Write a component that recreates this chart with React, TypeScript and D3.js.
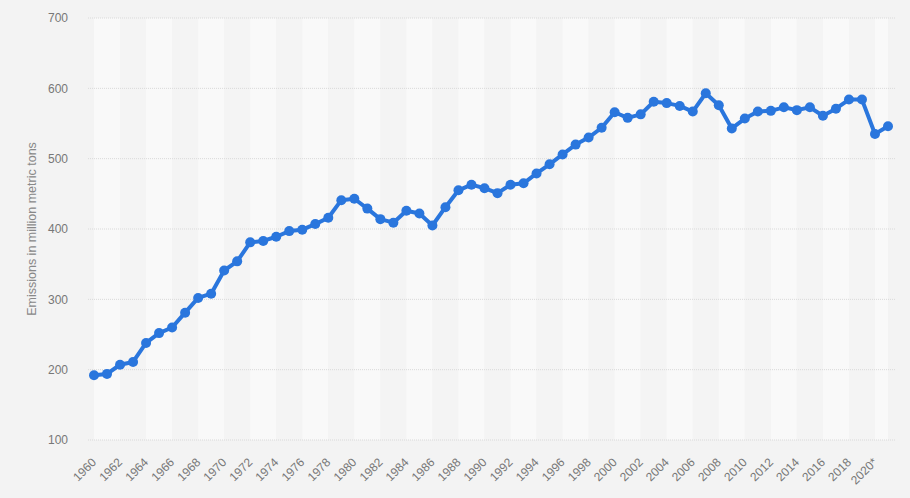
import React from "react";
import * as d3 from "d3";

const years: number[] = d3.range(1960, 2022);
const emissions: number[] = [
  192, 194, 207, 211, 238, 252, 260, 281, 302, 308,
  341, 354, 381, 383, 389, 397, 399, 407, 416, 441,
  443, 429, 414, 409, 426, 422, 405, 431, 455, 463,
  458, 451, 463, 465, 479, 492, 506, 520, 530, 544,
  566, 558, 563, 581, 579, 575, 567, 593, 576, 543,
  557, 567, 568, 573, 569, 573, 561, 571, 584, 584,
  535, 546,
];
const yTicks: number[] = [100, 200, 300, 400, 500, 600, 700];
const xTickLabels: string[] = years
  .filter((y) => y % 2 === 0)
  .map((y) => (y === 2020 ? "2020*" : String(y)));
const yTitle = "Emissions in million metric tons";

const W = 910;
const H = 498;
const plotLeft = 88;
const plotRight = 895;

export default function App() {
  const x = d3.scalePoint<number>().domain(years).range([94, 888]);
  const y = d3.scaleLinear().domain([100, 700]).range([440, 18]);
  const line = d3
    .line<number>()
    .x((_, i) => x(years[i]) as number)
    .y((d) => y(d));

  const bands: { x0: number; x1: number; light: boolean }[] = [];
  for (let i = 0; i < years.length - 1; i += 2) {
    const j = Math.min(i + 2, years.length - 1);
    bands.push({
      x0: x(years[i]) as number,
      x1: x(years[j]) as number,
      light: (i / 2) % 2 === 0,
    });
  }

  const font = "'Liberation Sans', Arial, Helvetica, sans-serif";

  return (
    <div style={{ position: "absolute", left: 0, top: 0 }}>
      <svg width={W} height={H} style={{ display: "block", fontFamily: font }}>
        <rect x={0} y={0} width={W} height={H} fill="#f3f3f3" />
        {bands.map((b, i) => (
          <rect
            key={i}
            x={b.x0}
            y={y(700)}
            width={b.x1 - b.x0}
            height={y(100) - y(700)}
            fill={b.light ? "#f9f9f9" : "#f4f4f4"}
          />
        ))}
        {yTicks.map((t) => (
          <g key={t}>
            <line
              x1={plotLeft}
              x2={plotRight}
              y1={y(t)}
              y2={y(t)}
              stroke="#d9d9d9"
              strokeWidth={1}
              strokeDasharray="1,1"
            />
            <text
              x={68}
              y={y(t)}
              dy="0.35em"
              textAnchor="end"
              fontSize={12}
              fill="#777"
            >
              {t}
            </text>
          </g>
        ))}
        {xTickLabels.map((lab, i) => {
          const xx = x(years[i * 2]) as number;
          return (
            <text
              key={lab}
              transform={`translate(${xx + 3},${463}) rotate(-45)`}
              textAnchor="end"
              fontSize={12}
              fill="#777"
            >
              {lab}
            </text>
          );
        })}
        <text
          transform={`translate(36,${(y(700) + y(100)) / 2}) rotate(-90)`}
          textAnchor="middle"
          fontSize={12.5}
          fill="#888"
        >
          {yTitle}
        </text>
        <path
          d={line(emissions) || ""}
          fill="none"
          stroke="#2a76dd"
          strokeWidth={4}
          strokeLinejoin="round"
          strokeLinecap="round"
        />
        {emissions.map((v, i) => (
          <circle
            key={i}
            cx={x(years[i]) as number}
            cy={y(v)}
            r={5}
            fill="#2a76dd"
          />
        ))}
      </svg>
    </div>
  );
}
